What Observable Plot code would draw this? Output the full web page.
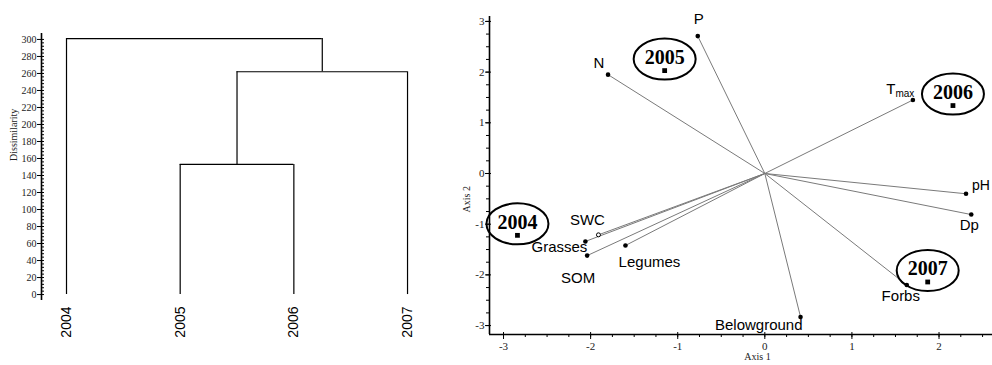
<!DOCTYPE html>
<html><head><meta charset="utf-8">
<script src="https://cdn.jsdelivr.net/npm/d3@7"></script>
<script src="https://cdn.jsdelivr.net/npm/@observablehq/plot@0.6"></script>
<style>
html,body{margin:0;padding:0;background:#fff;overflow:hidden}
#wrap{position:relative;width:992px;height:365px;background:#fff}
#left,#right{position:absolute;top:0}
#left{left:0}
#right{left:455px}
#wrap svg{background:transparent !important;overflow:hidden}
</style></head><body>
<div id="wrap"><div id="left"></div><div id="right"></div></div>
<script>
// ---------- Dendrogram data ----------
const leaves = ["2004", "2005", "2006", "2007"];
const mergeLeft = [1, 4, 0];     // node indices (leaves 0-3, merged clusters 4,5,6)
const mergeRight = [2, 3, 5];
const mergeHeight = [153, 262, 301];
const dissimTicks = [0, 20, 40, 60, 80, 100, 120, 140, 160, 180, 200, 220, 240, 260, 280, 300];

// ---------- Biplot data ----------
const years = ["2004", "2005", "2006", "2007"];
const yearAxis1 = [-2.84, -1.15, 2.16, 1.87];
const yearAxis2 = [-1.22, 2.03, 1.34, -2.14];
const variables = ["P", "N", "Tmax", "pH", "Dp", "Forbs", "Belowground", "SWC", "Grasses", "SOM", "Legumes"];
const varAxis1 = [-0.77, -1.80, 1.70, 2.31, 2.37, 1.63, 0.41, -1.91, -2.06, -2.04, -1.60];
const varAxis2 = [2.71, 1.95, 1.45, -0.40, -0.81, -2.20, -2.83, -1.21, -1.34, -1.62, -1.42];
const axis1Ticks = [-3, -2, -1, 0, 1, 2];
const axis2Ticks = [-3, -2, -1, 0, 1, 2, 3];

const SERIF = "'Liberation Serif','Times New Roman',serif";
const SANS = "'Liberation Sans',Arial,sans-serif";

// ---------- Dendrogram layout ----------
const nodeX = leaves.map((_, i) => i);
const nodeH = leaves.map(() => 0);
const vSegs = [], hSegs = [];
mergeHeight.forEach((h, m) => {
  const a = mergeLeft[m], b = mergeRight[m];
  vSegs.push({x: nodeX[a], y1: nodeH[a], y2: h});
  vSegs.push({x: nodeX[b], y1: nodeH[b], y2: h});
  hSegs.push({y: h, x1: nodeX[a], x2: nodeX[b]});
  nodeX.push((nodeX[a] + nodeX[b]) / 2);
  nodeH.push(h);
});
const dissimMinor = d3.range(0, 301, 4);

const L_X0 = -0.22, L_X1 = 3.378, L_Y0 = -7, L_Y1 = 307;
const left = Plot.plot({
  width: 470, height: 365,
  marginLeft: 41, marginRight: 20, marginTop: 33, marginBottom: 65,
  style: {fontFamily: SERIF, background: "transparent", color: "#000"},
  x: {domain: [L_X0, L_X1]},
  y: {domain: [L_Y0, L_Y1]},
  marks: [
    Plot.ruleX([L_X0], {y1: L_Y0, y2: L_Y1, stroke: "#000", strokeWidth: 1.6}),
    Plot.axisY({ticks: dissimMinor, tickSize: -3, tickFormat: () => "", label: null}),
    Plot.axisY({ticks: dissimTicks, tickSize: 4, tickPadding: 1, tickFormat: d => String(d), fontSize: 10, fontFamily: SERIF, fill: "#222", label: null}),
    Plot.axisX({ticks: [0, 1, 2, 3], tickFormat: i => leaves[i], tickRotate: -90, tickSize: 0, tickPadding: 6, fontSize: 14, fontFamily: SANS, label: null}),
    Plot.ruleX(vSegs, {x: "x", y1: "y1", y2: "y2", stroke: "#000", strokeWidth: 1.2}),
    Plot.ruleY(hSegs, {y: "y", x1: "x1", x2: "x2", stroke: "#000", strokeWidth: 1.2}),
    Plot.text(["Dissimilarity"], {frameAnchor: "left", rotate: -90, dx: -28, dy: -6, fontSize: 10, fontFamily: SERIF, fill: "#222"})
  ]
});
document.getElementById("left").appendChild(left);

// ---------- Biplot ----------
const yearData = years.map((name, i) => ({name, x: yearAxis1[i], y: yearAxis2[i]}));
const vecs = variables.map((name, i) => ({name, x: varAxis1[i], y: varAxis2[i]}));
const axis1Minor = d3.range(-3, 2.51, 0.25);
const axis2Minor = d3.range(-3, 3.01, 0.25);

const ellipseSymbol = {
  draw(ctx) {
    const a = 31, b = 20.5, k = 0.5523;
    ctx.moveTo(a, 0);
    ctx.bezierCurveTo(a, k * b, k * a, b, 0, b);
    ctx.bezierCurveTo(-k * a, b, -a, k * b, -a, 0);
    ctx.bezierCurveTo(-a, -k * b, -k * a, -b, 0, -b);
    ctx.bezierCurveTo(k * a, -b, a, -k * b, a, 0);
    ctx.closePath();
  }
};

const labelStyle = {
  P: {dx: 1, dy: -17},
  N: {dx: -9, dy: -11},
  pH: {dx: 6, dy: -8, textAnchor: "start", fontSize: 14},
  Dp: {dx: -2, dy: 11},
  Forbs: {dx: -6, dy: 11},
  Belowground: {dx: 2, dy: 8, textAnchor: "end"},
  SWC: {dx: -11, dy: -15},
  Grasses: {dx: -26, dy: 6},
  SOM: {dx: -9, dy: 23},
  Legumes: {dx: 24, dy: 17}
};
const labelMarks = [];
vecs.forEach(v => {
  if (v.name === "Tmax") {
    labelMarks.push(Plot.text([v], {x: "x", y: "y", text: () => "T", dx: -22, dy: -11, fontSize: 15, fontFamily: SANS}));
    labelMarks.push(Plot.text([v], {x: "x", y: "y", text: () => "max", dx: -8, dy: -6, fontSize: 10, fontFamily: SANS}));
  } else {
    labelMarks.push(Plot.text([v], {x: "x", y: "y", text: "name", fontSize: 15, fontFamily: SANS, ...labelStyle[v.name]}));
  }
});

const R_X0 = -3.161, R_X1 = 2.614, R_Y0 = -3.176, R_Y1 = 3.097;
const right = Plot.plot({
  width: 537, height: 365,
  marginLeft: 34, marginRight: 0, marginTop: 16, marginBottom: 31,
  style: {fontFamily: SERIF, background: "transparent", color: "#000"},
  x: {domain: [R_X0, R_X1]},
  y: {domain: [R_Y0, R_Y1]},
  marks: [
    Plot.link(vecs, {x1: () => 0, y1: () => 0, x2: "x", y2: "y", stroke: "#7a7a7a", strokeWidth: 1}),
    Plot.ruleX([R_X0], {y1: R_Y0, y2: R_Y1, stroke: "#000", strokeWidth: 1.6}),
    Plot.ruleY([R_Y0], {x1: R_X0, x2: R_X1, stroke: "#000", strokeWidth: 1.6}),
    Plot.axisY({ticks: axis2Minor, tickSize: 3, tickFormat: () => "", label: null}),
    Plot.axisY({ticks: axis2Ticks, tickSize: -2, tickFormat: () => "", label: null}),
    Plot.axisY({ticks: axis2Ticks, tickSize: 4, tickPadding: 1, tickFormat: d => String(d), fontSize: 11, fontFamily: SERIF, fill: "#222", label: null}),
    Plot.axisX({ticks: axis1Minor, tickSize: 3, tickFormat: () => "", label: null}),
    Plot.axisX({ticks: axis1Ticks, tickSize: -2, tickFormat: () => "", label: null}),
    Plot.axisX({ticks: axis1Ticks, tickSize: 5, tickPadding: 3, tickFormat: d => String(d), fontSize: 11, fontFamily: SERIF, fill: "#222", label: null}),
    Plot.text(["Axis 1"], {frameAnchor: "bottom", dx: 16.5, dy: 25, fontSize: 10, fontFamily: SERIF, fill: "#222"}),
    Plot.text(["Axis 2"], {frameAnchor: "left", rotate: -90, dx: -23, dy: 37, fontSize: 10, fontFamily: SERIF, fill: "#222"}),
    Plot.dot(vecs.filter(d => d.name !== "SWC"), {x: "x", y: "y", r: 2.3, fill: "#000"}),
    Plot.dot(vecs.filter(d => d.name === "SWC"), {x: "x", y: "y", r: 2, fill: "#fff", stroke: "#000", strokeWidth: 1}),
    Plot.dot(yearData, {x: "x", y: "y", symbol: "square", r: 2.7, fill: "#000"}),
    Plot.dot(yearData, {x: "x", y: "y", symbol: ellipseSymbol, dy: -11.5, fill: "none", stroke: "#000", strokeWidth: 2}),
    Plot.text(yearData, {x: "x", y: "y", text: "name", dy: -13, fontSize: 20, fontWeight: "bold", fontFamily: SERIF}),
    ...labelMarks
  ]
});
document.getElementById("right").appendChild(right);
</script>
</body></html>
